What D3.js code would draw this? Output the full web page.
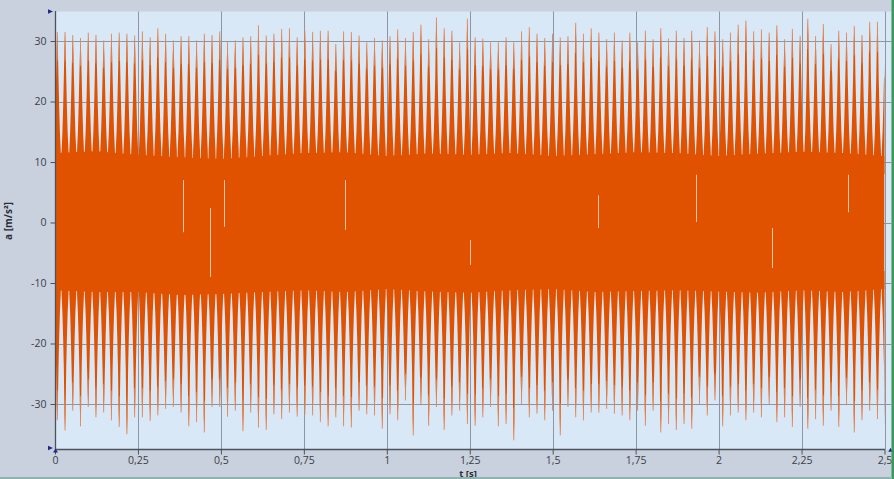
<!DOCTYPE html>
<html><head><meta charset="utf-8">
<script src="https://cdn.jsdelivr.net/npm/d3@7"></script>
<style>
html,body{margin:0;padding:0;background:#c9d0de;}
svg{display:block;}
</style></head>
<body>
<svg id="chart" width="894" height="479"></svg>
<script>
// ---- data ----
const xTicks = [0, 0.25, 0.5, 0.75, 1, 1.25, 1.5, 1.75, 2, 2.25, 2.5];
const xTickLabels = ["0", "0,25", "0,5", "0,75", "1", "1,25", "1,5", "1,75", "2", "2,25", "2,5"];
const yTicks = [30, 20, 10, 0, -10, -20, -30];
const yTickLabels = ["30", "20", "10", "0", "-10", "-20", "-30"];
const xLabel = "t [s]";
const yLabel = "a [m/s²]";

// impact times: first impact and repetition period (read from peak positions)
const firstPeakTime = 0.0069;
const peakPeriod = 0.02332;

// positive peak of each impact [m/s²]
const peakTop = [
  31.5, 31.5, 31.0, 30.5, 31.4, 31.0, 30.1, 31.2, 31.4, 31.2, 30.9, 31.6, 30.6, 32.1, 31.2, 30.1, 30.8, 30.8,
  30.1, 31.2, 31.0, 31.6, 29.9, 30.1, 30.6, 30.8, 32.6, 30.9, 31.2, 32.0, 32.1, 30.6, 31.7, 31.5, 31.7, 31.7,
  29.5, 31.6, 31.5, 30.9, 29.8, 30.5, 30.1, 30.8, 31.9, 30.5, 31.5, 32.7, 30.3, 33.9, 32.1, 31.7, 29.8,
  33.7, 30.6, 30.4, 29.8, 29.8, 30.6, 29.8, 31.6, 32.3, 31.2, 30.5, 31.2, 30.6, 30.8, 33.0, 31.2, 32.1, 31.4,
  30.3, 31.4, 30.1, 31.4, 29.8, 31.7, 30.3, 32.1, 30.4, 31.7, 30.5, 31.7, 30.1, 32.3, 31.6, 30.3, 31.4, 32.7,
  33.4, 31.6, 31.9, 31.4, 32.6, 30.3, 32.0, 30.9, 33.7, 30.8, 32.8, 29.5, 31.7, 31.4, 32.5, 31.0, 33.2, 33.2,
  26.0
];
// negative peak of each impact [m/s²]
const peakBottom = [
  -32.7, -34.4, -31.1, -33.7, -30.5, -32.2, -31.4, -32.7, -33.8, -35.0, -32.2, -32.2, -32.8, -31.9, -30.8, -30.5,
  -31.4, -33.7, -33.0, -34.7, -30.5, -30.5, -32.1, -31.1, -34.5, -31.4, -33.9, -34.3, -31.7, -32.5, -31.4, -32.1,
  -31.7, -31.9, -33.0, -33.7, -32.2, -33.7, -33.9, -31.1, -31.7, -31.9, -34.1, -31.7, -32.7, -29.4, -35.2, -30.2,
  -33.6, -30.5, -34.3, -31.9, -31.1,
  -33.3, -33.6, -32.2, -30.5, -33.7, -33.3, -36.0, -30.0, -32.2, -31.6, -32.7, -31.1, -35.2, -30.5, -32.2, -32.7,
  -31.4, -31.4, -30.8, -31.6, -31.9, -32.7, -31.1, -33.6, -31.1, -34.7, -33.3, -34.3, -33.3, -34.1, -30.0, -31.9,
  -29.4, -33.7, -31.9, -31.4, -32.7, -31.4, -32.2, -30.0, -33.0, -32.2, -33.8, -30.5, -34.1, -32.5, -33.6, -31.1,
  -33.8, -30.2, -34.7, -32.7, -31.1, -32.5,
  -33.3
];

// envelope of the continuous vibration band
const bandTimes = [0, 0.125, 0.25, 0.375, 0.5, 0.625, 0.75, 0.875, 1, 1.125, 1.25, 1.375, 1.5, 1.625, 1.75, 1.875, 2, 2.125, 2.25, 2.375, 2.5];
const bandUpper = [11.5, 11.8, 11.2, 10.8, 10.5, 11.0, 11.5, 11.6, 11.0, 11.4, 11.2, 11.5, 11.0, 11.3, 11.6, 11.5, 11.0, 11.4, 11.7, 11.5, 11.0];
const bandLower = [-11.2, -11.5, -11.5, -12.0, -11.8, -11.5, -11.2, -11.5, -11.0, -11.4, -11.6, -11.2, -11.0, -11.5, -11.3, -11.2, -11.4, -11.6, -11.2, -11.5, -11.0];

// light drop-outs visible inside the band: [t, from, to]
const bandGaps = [
  [0.386, 7.0, -1.6], [0.467, 2.4, -9.0], [0.509, 7.0, -0.7], [0.874, 7.0, -1.2],
  [1.251, -2.9, -7.0], [1.636, 4.5, -0.9], [1.932, 7.9, 0.1], [2.161, -0.9, -7.5], [2.39, 7.9, 1.7]
];

// ---- drawing ----
const W = 894, H = 479;
const svg = d3.select("#chart");
const x = d3.scaleLinear().domain([0, 2.5]).range([55, 884.5]);
const y = d3.scaleLinear().domain([-37.52, 34.88]).range([449.5, 11.5]);
const orange = "#e05200";

svg.append("rect").attr("x", 0).attr("y", 0).attr("width", W).attr("height", H).attr("fill", "#c9d0de");
svg.append("rect").attr("x", 55).attr("y", 11.5).attr("width", 891.5 - 55).attr("height", 449.5 - 11.5).attr("fill", "#d9e8f6");

// grid
const grid = svg.append("g");
grid.selectAll("line.h").data(yTicks).join("line")
  .attr("x1", 55).attr("x2", 891.5)
  .attr("y1", d => Math.round(y(d)) + 0.5).attr("y2", d => Math.round(y(d)) + 0.5)
  .attr("stroke", "#8d97a3").attr("stroke-width", 1);
grid.selectAll("line.v").data(xTicks.slice(1)).join("line")
  .attr("y1", 11.5).attr("y2", 449.5)
  .attr("x1", d => Math.round(x(d)) + 0.5).attr("x2", d => Math.round(x(d)) + 0.5)
  .attr("stroke", "#8d97a3").attr("stroke-width", 1);

// clip for the signal
svg.append("clipPath").attr("id", "plotclip").append("rect")
  .attr("x", 55).attr("y", 11.5).attr("width", 884.5 - 55).attr("height", 449.5 - 11.5);
const sig = svg.append("g").attr("clip-path", "url(#plotclip)");

// continuous band
const bandData = bandTimes.map((t, i) => ({t, hi: bandUpper[i], lo: bandLower[i]}));
sig.append("path").datum(bandData)
  .attr("d", d3.area().x(d => x(d.t)).y0(d => y(d.lo)).y1(d => y(d.hi)))
  .attr("fill", orange);

// impacts
const impacts = peakTop.map((v, i) => ({t: firstPeakTime + i * peakPeriod, top: v, bot: peakBottom[i]}));
function toothPath(cx, peak, sign) {
  // tapered spike: wide at the band, thin near the tip
  const pts = [
    [cx - 4.0, y(sign * 8)],
    [cx - 3.4, y(sign * 12)],
    [cx - 2.6, y(sign * 15)],
    [cx - 1.9, y(sign * 19)],
    [cx - 1.2, y(sign * 24)],
    [cx - 0.6, y(peak * 0.92)],
    [cx, y(peak)],
    [cx + 0.6, y(peak * 0.92)],
    [cx + 1.2, y(sign * 24)],
    [cx + 1.9, y(sign * 19)],
    [cx + 2.6, y(sign * 15)],
    [cx + 3.4, y(sign * 12)],
    [cx + 4.0, y(sign * 8)]
  ];
  return d3.line()(pts) + "Z";
}
sig.selectAll("path.up").data(impacts).join("path")
  .attr("d", d => toothPath(x(d.t), d.top, 1)).attr("fill", orange);
sig.selectAll("path.dn").data(impacts).join("path")
  .attr("d", d => toothPath(x(d.t), d.bot, -1)).attr("fill", orange);
// thin light tips
sig.selectAll("line.tu").data(impacts).join("line")
  .attr("x1", d => x(d.t)).attr("x2", d => x(d.t))
  .attr("y1", d => y(d.top * 0.85)).attr("y2", d => y(d.top))
  .attr("stroke", "#e2885a").attr("stroke-width", 0.9);
sig.selectAll("line.td").data(impacts).join("line")
  .attr("x1", d => x(d.t)).attr("x2", d => x(d.t))
  .attr("y1", d => y(d.bot * 0.85)).attr("y2", d => y(d.bot))
  .attr("stroke", "#e2885a").attr("stroke-width", 0.9);

// gaps
sig.selectAll("line.gap").data(bandGaps).join("line")
  .attr("x1", d => Math.round(x(d[0])) + 0.5).attr("x2", d => Math.round(x(d[0])) + 0.5)
  .attr("y1", d => y(d[1])).attr("y2", d => y(d[2]))
  .attr("stroke", "#f3c6a8").attr("stroke-width", 1);

// axes
const axisColor = "#4b525c";
const fontFam = "'Open Sans', 'Noto Sans', sans-serif";
const yAxis = svg.append("g").attr("transform", "translate(55.5,0)")
  .call(d3.axisLeft(y).tickValues(yTicks).tickSize(5).tickPadding(4)
    .tickFormat((d, i) => yTickLabels[i]));
yAxis.select(".domain").attr("d", "M0," + 11 + "V" + 450);
const xAxis = svg.append("g").attr("transform", "translate(0,449.5)")
  .call(d3.axisBottom(x).tickValues(xTicks).tickSize(5).tickPadding(2)
    .tickFormat((d, i) => xTickLabels[i]));
xAxis.select(".domain").attr("d", "M55,0H885");
[yAxis, xAxis].forEach(a => {
  a.selectAll(".domain").attr("stroke", axisColor).attr("stroke-width", 1.3);
  a.selectAll(".tick line").attr("stroke", axisColor);
  a.selectAll(".tick text").attr("fill", "#3a3f47").style("font-family", fontFam).style("font-size", "10.5px");
});

// axis titles
svg.append("text").attr("x", 468).attr("y", 476.5)
  .attr("text-anchor", "middle").style("font-family", fontFam).style("font-size", "9.5px")
  .style("font-weight", "bold").attr("fill", "#2b2f36").text(xLabel);
svg.append("text").attr("transform", "translate(12,221) rotate(-90)")
  .attr("text-anchor", "middle").style("font-family", fontFam).style("font-size", "10px")
  .style("font-weight", "bold").attr("fill", "#2b2f36").text(yLabel);

// axis end markers
const navy = "#1c2a8a";
const tri = [
  [[48, 9.3], [53, 11.5], [48, 13.7]],
  [[48, 445.8], [53, 448], [48, 450.2]],
  [[53, 452.5], [55.5, 448.5], [58, 452.5]],
  [[888.3, 451.8], [890.5, 447.8], [892.7, 451.8]]
];
svg.selectAll("polygon.m").data(tri).join("polygon")
  .attr("points", d => d.map(p => p.join(",")).join(" ")).attr("fill", navy);

// window border
svg.append("rect").attr("x", 891.5).attr("y", 0).attr("width", 2.5).attr("height", H).attr("fill", "#3b9a5c");
svg.append("rect").attr("x", 0).attr("y", 477).attr("width", 892).attr("height", 2).attr("fill", "#8fb3b0");
</script>
</body></html>
